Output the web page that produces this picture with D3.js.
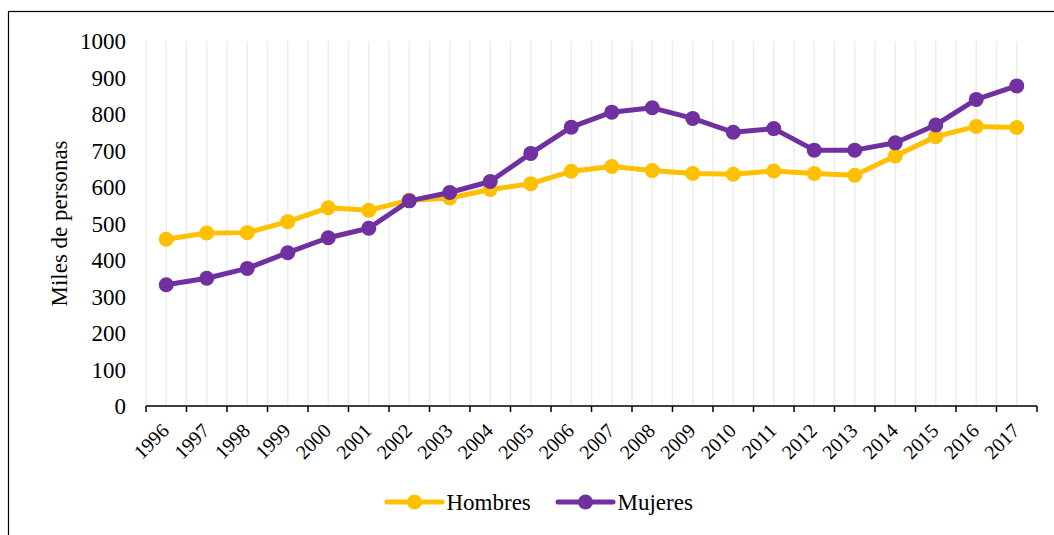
<!DOCTYPE html>
<html lang="es">
<head>
<meta charset="UTF-8">
<title>Miles de personas</title>
<script src="https://d3js.org/d3.v7.min.js"></script>
<style>
  html, body { margin: 0; padding: 0; background: #fff; }
</style>
</head>
<body>
<div id="chart"></div>
<script>
// data
const years = ["1996","1997","1998","1999","2000","2001","2002","2003","2004","2005","2006",
               "2007","2008","2009","2010","2011","2012","2013","2014","2015","2016","2017"];
const hombres = [457, 474, 475, 505, 543, 536, 564, 570, 593, 609, 643,
                 656, 645, 637, 635, 644, 637, 632, 685, 738, 766, 763];
const mujeres = [332, 350, 377, 420, 461, 487, 562, 585, 615, 692, 764,
                 805, 817, 788, 750, 760, 701, 701, 721, 770, 840, 877];
const yTicks = [0, 100, 200, 300, 400, 500, 600, 700, 800, 900, 1000];

const series = [
  { name: "Hombres", values: hombres, color: "#FFC000" },
  { name: "Mujeres", values: mujeres, color: "#7030A0" }
];

const FONT = "Liberation Serif";
const width = 1054, height = 535;
const margin = { left: 146, right: 17, top: 41, bottom: 129 };

const svg = d3.select("#chart").append("svg")
  .attr("width", width)
  .attr("height", height);

// outer frame (only top and left edges show in the picture)
svg.append("rect")
  .attr("x", 8.5).attr("y", 11.5)
  .attr("width", width + 20).attr("height", height + 20)
  .attr("fill", "none").attr("stroke", "#000").attr("stroke-width", 1.2);

const x = d3.scaleBand()
  .domain(years)
  .range([margin.left, width - margin.right]);

const y = d3.scaleLinear()
  .domain([0, 1000])
  .range([height - margin.bottom, margin.top]);

// vertical gridlines at category centres and boundaries
const gridX = [];
years.forEach(yr => {
  gridX.push(x(yr));
  gridX.push(x(yr) + x.bandwidth() / 2);
});
svg.append("g")
  .selectAll("line")
  .data(gridX)
  .join("line")
  .attr("x1", d => d).attr("x2", d => d)
  .attr("y1", y(1000)).attr("y2", y(0))
  .attr("stroke", "#ededed")
  .attr("stroke-width", 1.5);

// y axis labels (no axis line)
const yAxis = svg.append("g")
  .attr("transform", `translate(${margin.left - 20},0)`)
  .call(d3.axisLeft(y).tickValues(yTicks).tickFormat(d3.format("d")).tickSize(0).tickPadding(0));
yAxis.select(".domain").remove();
yAxis.selectAll("text")
  .attr("font-family", FONT)
  .attr("font-size", 23)
  .attr("fill", "#000")
  .attr("dy", "0.33em");

// x axis
const xAxisG = svg.append("g")
  .attr("transform", `translate(0,${y(0)})`);
xAxisG.append("line")
  .attr("x1", margin.left).attr("x2", width - margin.right)
  .attr("stroke", "#000").attr("stroke-width", 1.5);
const tickPos = years.map(yr => x(yr)).concat([width - margin.right]);
xAxisG.selectAll(".tk")
  .data(tickPos)
  .join("line")
  .attr("class", "tk")
  .attr("x1", d => d).attr("x2", d => d)
  .attr("y1", 0).attr("y2", 6)
  .attr("stroke", "#000").attr("stroke-width", 1.5);
xAxisG.selectAll(".lbl")
  .data(years)
  .join("text")
  .attr("class", "lbl")
  .attr("font-family", FONT)
  .attr("text-anchor", "end")
  .attr("font-size", 20)
  .attr("transform", d => `translate(${x(d) + x.bandwidth() / 2 + 4},${26}) rotate(-45)`)
  .text(d => d);

// y title
svg.append("text")
  .attr("transform", `translate(67,${(y(0) + y(1000)) / 2}) rotate(-90)`)
  .attr("font-family", FONT)
  .attr("text-anchor", "middle")
  .attr("font-size", 23)
  .text("Miles de personas");

// lines and markers
const line = d3.line()
  .x((d, i) => x(years[i]) + x.bandwidth() / 2)
  .y(d => y(d));

series.forEach(s => {
  const g = svg.append("g");
  g.append("path")
    .datum(s.values)
    .attr("d", line)
    .attr("fill", "none")
    .attr("stroke", s.color)
    .attr("stroke-width", 5)
    .attr("stroke-linejoin", "round");
  g.selectAll("circle")
    .data(s.values)
    .join("circle")
    .attr("cx", (d, i) => x(years[i]) + x.bandwidth() / 2)
    .attr("cy", d => y(d))
    .attr("r", 7.5)
    .attr("fill", s.color);
});

// legend
const legendX = [387, 558];
const legendY = 502;
series.forEach((s, i) => {
  const lg = svg.append("g").attr("transform", `translate(${legendX[i]},${legendY})`);
  lg.append("line")
    .attr("x1", 0).attr("x2", 55)
    .attr("stroke", s.color).attr("stroke-width", 5).attr("stroke-linecap", "round");
  lg.append("circle").attr("cx", 27.5).attr("r", 7.5).attr("fill", s.color);
  lg.append("text")
    .attr("x", 59.5).attr("y", 8)
    .attr("font-family", FONT)
    .attr("font-size", 23)
    .text(s.name);
});
</script>
</body>
</html>
